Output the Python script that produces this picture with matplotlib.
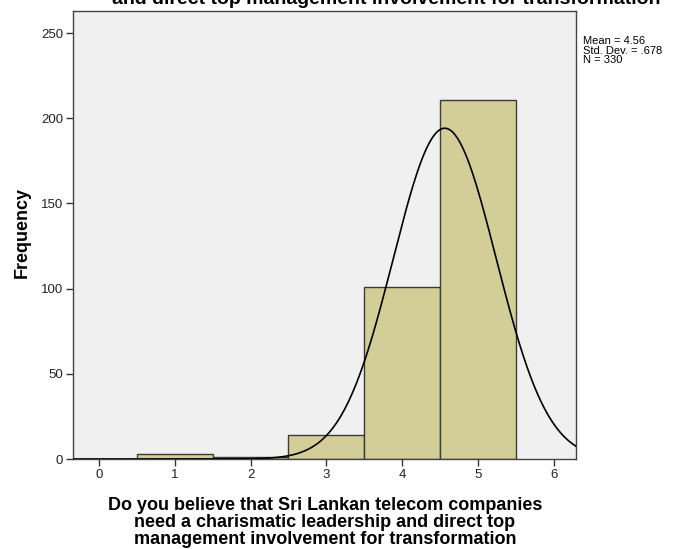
import numpy as np
import matplotlib
matplotlib.use("Agg")
import matplotlib.pyplot as plt

# Data
bin_centers = [1, 2, 3, 4, 5]
frequencies = [3, 1, 14, 101, 211]
mean_val = 4.56
std_val = 0.678
n_val = 330
x_ticks = [0, 1, 2, 3, 4, 5, 6]
y_ticks = [0, 50, 100, 150, 200, 250]

plt.rcParams['font.family'] = ['Liberation Sans', 'DejaVu Sans']

fig = plt.figure(figsize=(6.82, 5.49), dpi=100)
ax = fig.add_axes([73/682, 1-459/549, (576-73)/682, (459-11)/549])
ax.set_facecolor('#F0F0F0')

ax.bar(bin_centers, frequencies, width=1.0, color='#D3CE98', edgecolor='#3a3a3a', linewidth=1.0, zorder=2)

xs = np.linspace(-0.34, 6.29, 400)
pdf = n_val * 1.0 / (std_val * np.sqrt(2*np.pi)) * np.exp(-0.5*((xs-mean_val)/std_val)**2)
ax.plot(xs, pdf, color='#000000', linewidth=1.2, zorder=3)

ax.set_xlim(-0.34, 6.29)
ax.set_ylim(0, 263)
ax.set_xticks(x_ticks)
ax.set_yticks(y_ticks)
ax.tick_params(axis='both', direction='out', length=5, width=1, color='#333333', labelsize=9.5, labelcolor='#222222', pad=2)
for s in ax.spines.values():
    s.set_color('#444444')
    s.set_linewidth(1.0)

ax.set_ylabel('Frequency', fontsize=13, fontweight='bold')
ax.yaxis.set_label_coords(-(73-31)/(576-73), (459-233)/(459-11))

fig.text(325/682, 1-497/549,
         'Do you believe that Sri Lankan telecom companies\nneed a charismatic leadership and direct top\nmanagement involvement for transformation',
         fontsize=13, fontweight='bold', ha='center', va='top', linespacing=1.0)

fig.text(583/682, 1-36/549, 'Mean = 4.56\nStd. Dev. = .678\nN = 330', fontsize=8, va='top', ha='left', linespacing=0.95)

fig.text(386/682, 1-4/549, 'and direct top management involvement for transformation',
         fontsize=14, fontweight='bold', ha='center', va='baseline')

fig.savefig('out.png', dpi=100)
